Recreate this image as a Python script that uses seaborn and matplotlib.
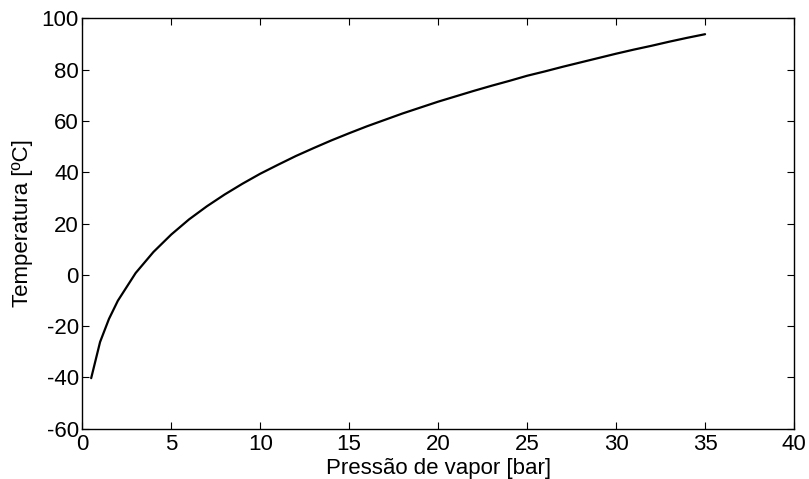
import matplotlib
matplotlib.use("Agg")
import matplotlib.pyplot as plt
import seaborn as sns
import pandas as pd

# Data (saturation curve)
pressure_bar = [0.5, 1, 1.5, 2, 3, 4, 5, 6, 7, 8, 9, 10, 11, 12, 13, 14, 15, 16, 17, 18,
                19, 20, 21, 22, 23, 24, 25, 26, 27, 28, 29, 30, 31, 32, 33, 34, 35]
temperature_c = [-40.3, -26.2, -17.2, -10.1, 0.7, 8.9, 15.7, 21.6, 26.7, 31.3, 35.5, 39.4,
                 42.9, 46.3, 49.4, 52.4, 55.2, 57.9, 60.4, 62.9, 65.2, 67.5, 69.6, 71.7,
                 73.7, 75.6, 77.6, 79.3, 81.1, 82.8, 84.5, 86.2, 87.8, 89.3, 90.9, 92.4, 93.8]

x_ticks = [0, 5, 10, 15, 20, 25, 30, 35, 40]
y_ticks = [-60, -40, -20, 0, 20, 40, 60, 80, 100]

sns.set_style("ticks")
plt.rcParams['font.family'] = ['Liberation Sans', 'DejaVu Sans']
plt.rcParams['text.color'] = 'black'
plt.rcParams['axes.labelcolor'] = 'black'

df = pd.DataFrame({"p": pressure_bar, "T": temperature_c})

fig = plt.figure(figsize=(8.09, 4.79), dpi=100)
ax = fig.add_axes([0.1017, 0.105, 0.8798, 0.8568])

sns.lineplot(data=df, x="p", y="T", ax=ax, color="black", linewidth=1.6,
             sort=False, estimator=None)

ax.set_xlim(0, 40)
ax.set_ylim(-60, 100)
ax.set_xticks(x_ticks)
ax.set_yticks(y_ticks)
ax.set_xticklabels([str(v) for v in x_ticks])
ax.set_yticklabels([str(v) for v in y_ticks])
ax.tick_params(direction="in", length=5, width=0.8, top=True, right=True,
               labelsize=16, colors="black")
ax.tick_params(axis="y", pad=2.5)
ax.tick_params(axis="x", pad=4)
for s in ax.spines.values():
    s.set_visible(True)
    s.set_linewidth(1.0)
    s.set_color("black")

ax.set_xlabel("Pressão de vapor [bar]", fontsize=16, color="black")
ax.set_ylabel("Temperatura [ºC]", fontsize=16, color="black")
ax.xaxis.set_label_coords(0.5, -0.072)
ax.yaxis.set_label_coords(-0.069, 0.5)

fig.savefig("out.png", dpi=100)
